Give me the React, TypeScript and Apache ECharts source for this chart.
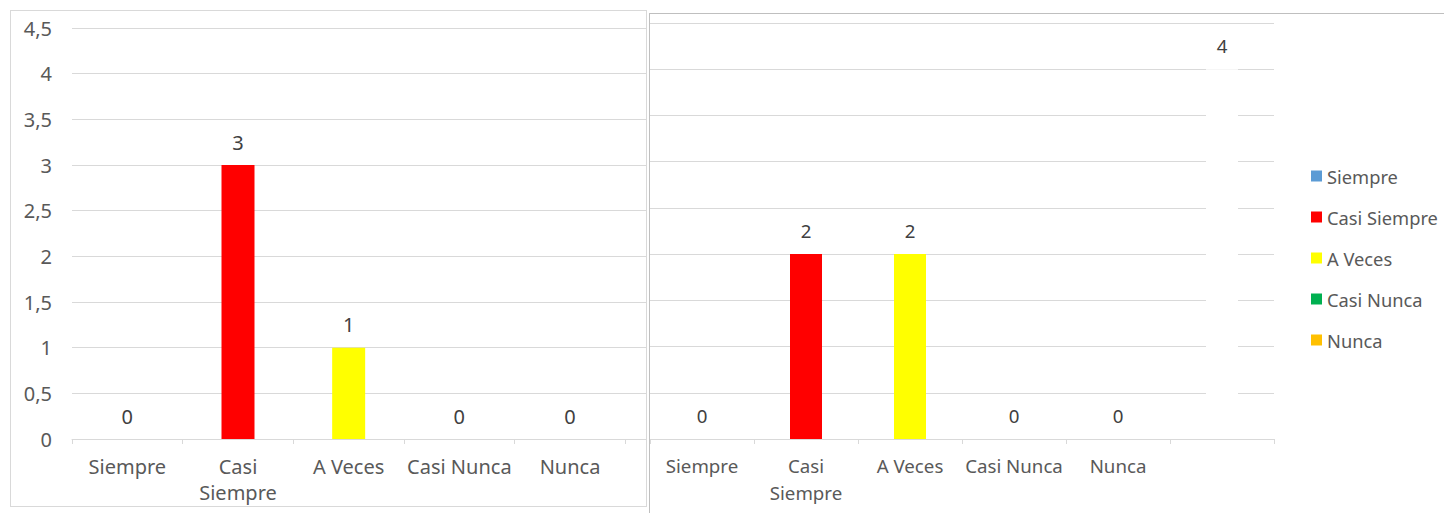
import React, { useEffect, useRef } from "react";
import * as echarts from "echarts";

const categories = ["Siempre", "Casi Siempre", "A Veces", "Casi Nunca", "Nunca", ""];
const legendNames = ["Siempre", "Casi Siempre", "A Veces", "Casi Nunca", "Nunca"];
const colors = ["#5b9bd5", "#ff0000", "#ffff00", "#00b050", "#ffc000", "#ffffff"];
const leftValues = [0, 3, 1, 0, 0];
const rightValues = [0, 2, 2, 0, 0, 4];
const yMin = 0;
const yMax = 4.5;
const yStep = 0.5;

const FONT = "Noto Sans";

function buildSeries(values: number[], barWidth: number, fontSize: number, distance: number) {
  return values.map((v, i) => {
    const data = categories.map((_, j) => (j === i ? v : null));
    return {
      type: "bar",
      name: categories[i],
      data,
      barWidth,
      barGap: "-100%",
      itemStyle: { color: colors[i] },
      label: {
        show: true,
        position: "top",
        distance,
        color: "#404040",
        fontSize,
        fontFamily: FONT,
      },
    };
  });
}

function wrapLabel(v: string) {
  return v === "Casi Siempre" ? "Casi\nSiempre" : v;
}

function ChartBox({ option, style }: { option: any; style: React.CSSProperties }) {
  const ref = useRef<HTMLDivElement>(null);
  useEffect(() => {
    if (!ref.current) return;
    const chart = echarts.init(ref.current, undefined, { renderer: "svg" });
    chart.setOption(option);
    return () => chart.dispose();
  }, []);
  return <div ref={ref} style={style} />;
}

export default function App() {
  const leftOption = {
    animation: false,
    grid: { left: 62, top: 18, width: 664, height: 411 },
    xAxis: {
      type: "category",
      data: categories,
      axisLine: { lineStyle: { color: "#d9d9d9" } },
      axisTick: { show: true, length: 5, lineStyle: { color: "#d9d9d9" } },
      axisLabel: {
        color: "#595959",
        fontSize: 20,
        fontFamily: FONT,
        lineHeight: 26,
        margin: 14,
        interval: 0,
        formatter: wrapLabel,
      },
    },
    yAxis: {
      type: "value",
      min: yMin,
      max: yMax,
      interval: yStep,
      axisLine: { show: false },
      axisTick: { show: false },
      splitLine: { lineStyle: { color: "#d9d9d9" } },
      axisLabel: {
        color: "#595959",
        fontSize: 20,
        fontFamily: FONT,
        margin: 20,
        formatter: (v: number) => String(v).replace(".", ","),
      },
    },
    series: buildSeries(leftValues, 33, 20, 13),
  };

  const rightOption = {
    animation: false,
    grid: { left: 0, top: 9, width: 624, height: 416 },
    legend: {
      orient: "vertical",
      left: 656,
      top: 147,
      data: legendNames,
      icon: "rect",
      itemWidth: 11,
      itemHeight: 11,
      itemGap: 21,
      textStyle: { color: "#595959", fontSize: 18.3, fontFamily: FONT, lineHeight: 20 },
    },
    xAxis: {
      type: "category",
      data: categories,
      axisLine: { lineStyle: { color: "#d9d9d9" } },
      axisTick: { show: true, length: 5, lineStyle: { color: "#d9d9d9" } },
      axisLabel: {
        color: "#595959",
        fontSize: 18.7,
        fontFamily: FONT,
        lineHeight: 27,
        margin: 13,
        interval: 0,
        formatter: wrapLabel,
      },
    },
    yAxis: {
      type: "value",
      min: yMin,
      max: yMax,
      interval: yStep,
      axisLine: { show: false },
      axisTick: { show: false },
      axisLabel: { show: false },
      splitLine: { lineStyle: { color: "#d9d9d9" } },
    },
    series: buildSeries(rightValues, 32, 18.7, 14),
  };

  return (
    <div style={{ position: "fixed", left: 0, top: 0, width: 1444, height: 513, background: "#ffffff", overflow: "hidden" }}>
      <div
        style={{
          position: "absolute",
          left: 10,
          top: 10,
          width: 637,
          height: 497,
          boxSizing: "border-box",
          border: "1px solid #d9d9d9",
          overflow: "hidden",
          background: "#ffffff",
        }}
      >
        <ChartBox option={leftOption} style={{ position: "absolute", left: -1, top: -1, width: 800, height: 497 }} />
      </div>
      <div
        style={{
          position: "absolute",
          left: 649,
          top: 13,
          width: 800,
          height: 510,
          boxSizing: "border-box",
          borderTop: "1px solid #bfbfbf",
          borderLeft: "1px solid #bfbfbf",
          overflow: "hidden",
          background: "#ffffff",
        }}
      >
        <ChartBox option={rightOption} style={{ position: "absolute", left: 0, top: 0, width: 795, height: 500 }} />
      </div>
    </div>
  );
}
